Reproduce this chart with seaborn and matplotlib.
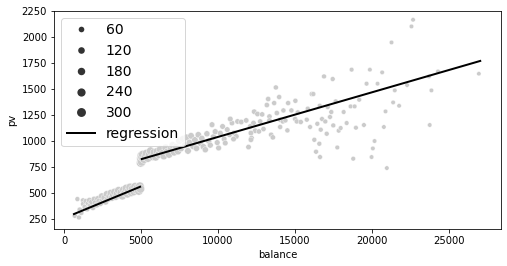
import numpy as np
import pandas as pd
import matplotlib
matplotlib.use("Agg")
import matplotlib.pyplot as plt
from matplotlib.lines import Line2D
import seaborn as sns

# ---- data ----
# lower cluster
low_balance = [693, 870, 970, 1230, 1020, 1120, 1250, 1350, 1420, 1500, 1580, 1650, 1720, 1800,
               1880, 1960, 2040, 2120, 2200, 2280, 2360, 2450, 2530, 2620, 2700, 2780, 2870, 2950,
               3030, 3120, 3200, 3280, 3370, 3450, 3540, 3620, 3700, 3790, 3870, 3950, 4040, 4120,
               4200, 4290, 4370, 4450, 4540, 4620, 4700, 4780, 4860, 4930, 4960]
low_pv = [282, 442, 265, 429, 340, 310, 395, 365, 420, 345, 400, 430, 380, 415,
          360, 440, 405, 385, 445, 420, 400, 470, 430, 455, 415, 490, 445, 470,
          500, 455, 480, 510, 465, 495, 525, 480, 505, 470, 530, 500, 545, 490,
          520, 555, 505, 540, 515, 560, 530, 550, 520, 565, 540]
low_size = [40, 30, 30, 40, 50, 50, 60, 60, 70, 60, 70, 80, 80, 90,
            80, 100, 100, 90, 110, 110, 100, 130, 120, 140, 120, 160, 150, 160,
            180, 170, 180, 200, 190, 210, 230, 210, 230, 220, 250, 240, 260, 240,
            260, 280, 260, 280, 270, 300, 290, 300, 290, 310, 300]

# upper cluster
mid_balance = [4980, 5000, 5010, 5030, 5050, 5080, 5120, 5200, 5280, 5350, 5450, 5550, 5620, 5750,
               5850, 5950, 6050, 6150, 6250, 6380, 6480, 6600, 6700, 6820, 6950, 7050, 7150, 7280,
               7400, 7480, 7600, 7720, 7850, 7950, 8050, 8150, 8250, 8380, 8500, 8600, 8720, 8850,
               8950, 9050, 9178, 9280, 9400, 9500, 9612, 9700, 9820, 9950, 10040, 10150, 10298, 10400,
               10473, 10600, 10750, 10907]
mid_pv = [790, 835, 815, 860, 800, 845, 870, 825, 850, 880, 835, 870, 905, 850,
          890, 845, 900, 870, 920, 880, 855, 935, 895, 870, 925, 960, 890, 945,
          900, 1000, 930, 1020, 960, 1035, 905, 985, 1050, 950, 1010, 930, 1060, 980,
          1025, 945, 916, 1070, 1000, 960, 1157, 1040, 1090, 985, 933, 1075, 1140, 1020,
          980, 1110, 1060, 1173]
mid_size = [300, 310, 300, 300, 290, 300, 290, 280, 280, 270, 260, 250, 250, 240,
            240, 230, 220, 220, 210, 210, 200, 200, 190, 190, 180, 180, 170, 170,
            160, 160, 150, 150, 150, 140, 140, 140, 130, 130, 130, 120, 120, 120,
            110, 110, 100, 100, 100, 90, 80, 90, 90, 80, 80, 80, 70, 70,
            70, 70, 60, 60]

# sparse right part
high_balance = [16886, 17449, 13757, 13971, 13258, 13647, 13174, 16089, 16193, 15027, 14554, 15830,
                12352, 12565, 12870, 14249, 13822, 14768, 13343, 15182, 16607, 17125, 17643, 18161,
                17358, 10797, 11270, 11509, 11833, 12306, 12740, 13343, 14036, 14211, 14379, 15007,
                15117, 15376, 15765, 16756, 16970, 16452, 17274, 17488, 17838, 17967, 18356, 12093,
                12416, 12138, 12954, 12656, 14036, 14508, 15979, 16672, 17060, 11056, 11186, 11011,
                12177, 12138, 13453, 13563, 16257, 16581, 11982, 16367, 16626, 17747,
                22668, 22565, 21269, 18679, 19864, 20661, 19650, 20363, 23705, 24288, 26943, 21483,
                22280, 23860, 19171, 18614, 18873, 21373, 21762, 20881, 18957, 19475, 20771, 23750,
                20168, 20058, 19974, 18782, 20965]
high_pv = [1621, 1596, 1515, 1423, 1404, 1365, 1346, 1452, 1452, 1387, 1365, 1311,
           1282, 1260, 1256, 1294, 1269, 1294, 1236, 1275, 1339, 1327, 1381, 1279,
           1279, 1212, 1188, 1183, 1198, 1173, 1188, 1198, 1205, 1188, 1198, 1212,
           1188, 1183, 1205, 1212, 1188, 1166, 1231, 1150, 1099, 1125, 1173, 1140,
           1099, 1077, 1115, 1092, 1135, 1102, 1135, 1109, 1070, 1077, 1044, 1019,
           1029, 1012, 1060, 1035, 1012, 974, 942, 897, 846, 938,
           2166, 2102, 1948, 1686, 1686, 1660, 1551, 1551, 1621, 1669, 1647, 1487,
           1538, 1487, 1397, 1333, 1333, 1371, 1339, 1285, 1128, 1154, 1135, 1154,
           1000, 929, 846, 830, 740]
high_size = [30, 30, 40, 40, 50, 40, 50, 30, 30, 40, 40, 30,
             60, 60, 50, 40, 50, 40, 50, 40, 30, 30, 30, 20,
             30, 70, 60, 60, 60, 60, 50, 50, 40, 40, 40, 40,
             40, 40, 30, 30, 30, 30, 30, 30, 20, 20, 20, 60,
             60, 60, 50, 50, 40, 40, 30, 30, 30, 70, 70, 70,
             60, 60, 50, 50, 30, 30, 60, 30, 30, 20,
             10, 10, 10, 20, 10, 10, 20, 10, 10, 10, 5, 10,
             10, 10, 20, 20, 20, 10, 10, 10, 20, 20, 10, 10,
             10, 10, 10, 20, 10]

# regression segments
reg_segment = [0, 0, 1, 1]
reg_balance = [648, 4940, 5052, 27030]
reg_pv = [298, 560, 827, 1770]

legend_levels = [60, 120, 180, 240, 300]
x_ticks = [0, 5000, 10000, 15000, 20000, 25000]
y_ticks = [250, 500, 750, 1000, 1250, 1500, 1750, 2000, 2250]

df = pd.DataFrame({
    "balance": low_balance + mid_balance + high_balance,
    "pv": low_pv + mid_pv + high_pv,
    "count": low_size + mid_size + high_size,
})
reg = pd.DataFrame({"segment": reg_segment, "balance": reg_balance, "pv": reg_pv})

size_range = (18, 72)
size_norm = (0, 300)

fig = plt.figure(figsize=(507 / 72, 266 / 72), dpi=72)
ax = fig.add_axes([54 / 507, 1 - 228.7 / 266, (500.7 - 54) / 507, (228.7 - 10.7) / 266])

sns.scatterplot(data=df, x="balance", y="pv", size="count", sizes=size_range,
                size_norm=size_norm, color="#cbcbcb", legend=False, ax=ax)

for seg, part in reg.groupby("segment"):
    sns.lineplot(data=part, x="balance", y="pv", color="black", linewidth=2,
                 estimator=None, sort=False, legend=False, ax=ax)
line_handle = Line2D([], [], color="black", linewidth=2)

handles = []
for lv in legend_levels:
    area = size_range[0] + (lv - size_norm[0]) / (size_norm[1] - size_norm[0]) * (size_range[1] - size_range[0])
    handles.append(Line2D([], [], marker="o", linestyle="", color=".2",
                          markersize=np.sqrt(area) * 1.05, markeredgewidth=0))
handles.append(line_handle)
labels = [str(v) for v in legend_levels] + ["regression"]
ax.legend(handles, labels, loc="upper left", fontsize=14, labelspacing=0.48)

ax.set_xlim(-650, 28360)
ax.set_ylim(157, 2253)
ax.set_xticks(x_ticks)
ax.set_yticks(y_ticks)
ax.set_xlabel("balance")
ax.set_ylabel("pv")

fig.savefig("out.png", dpi=72)
